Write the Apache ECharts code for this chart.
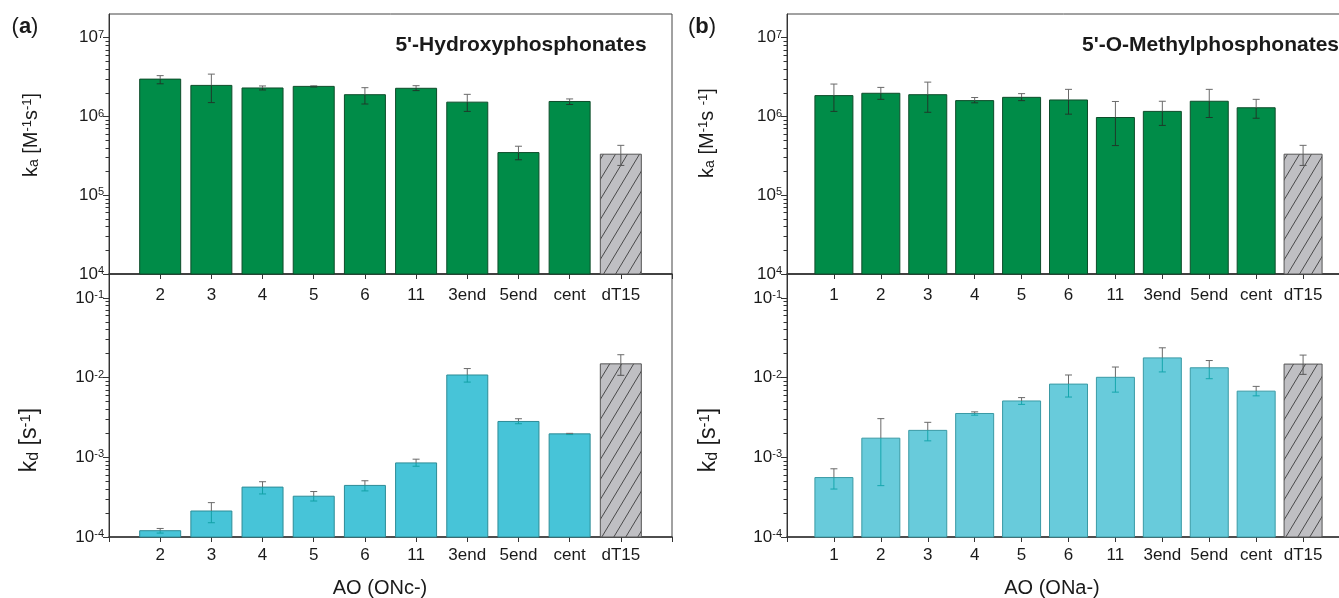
<!DOCTYPE html>
<html><head><meta charset="utf-8">
<script src="https://cdn.jsdelivr.net/npm/echarts@6/dist/echarts.min.js"></script>
<style>html,body{margin:0;padding:0;background:#fff}#c{width:1339px;height:598px}</style>
</head><body><div id="c"></div>
<script>
// ---- data ----
const catsA = ['2','3','4','5','6','11','3end','5end','cent','dT15'];
const kaA    = [2.98e6, 2.48e6, 2.30e6, 2.41e6, 1.89e6, 2.28e6, 1.52e6, 3.48e5, 1.55e6, 3.32e5];
const kaA_hi = [3.30e6, 3.45e6, 2.44e6, 2.45e6, 2.32e6, 2.46e6, 1.91e6, 4.19e5, 1.67e6, 4.30e5];
const kaA_lo = [2.60e6, 1.50e6, 2.17e6, 2.37e6, 1.44e6, 2.13e6, 1.16e6, 2.82e5, 1.42e6, 2.39e5];
const kdA    = [1.20e-4, 2.12e-4, 4.23e-4, 3.25e-4, 4.44e-4, 8.51e-4, 1.08e-2, 2.82e-3, 1.97e-3, 1.49e-2];
const kdA_hi = [1.28e-4, 2.70e-4, 4.94e-4, 3.72e-4, 5.08e-4, 9.48e-4, 1.30e-2, 3.05e-3, 2.00e-3, 1.94e-2];
const kdA_lo = [1.12e-4, 1.51e-4, 3.47e-4, 2.83e-4, 3.79e-4, 7.73e-4, 8.80e-3, 2.64e-3, 1.93e-3, 1.07e-2];

const catsB = ['1','2','3','4','5','6','11','3end','5end','cent','dT15'];
const kaB    = [1.84e6, 1.97e6, 1.89e6, 1.59e6, 1.75e6, 1.62e6, 9.7e5, 1.16e6, 1.56e6, 1.29e6, 3.32e5];
const kaB_hi = [2.58e6, 2.34e6, 2.73e6, 1.74e6, 1.95e6, 2.21e6, 1.55e6, 1.56e6, 2.21e6, 1.65e6, 4.30e5];
const kaB_lo = [1.16e6, 1.65e6, 1.13e6, 1.49e6, 1.59e6, 1.07e6, 4.27e5, 7.7e5, 9.7e5, 9.5e5, 2.39e5];
const kdB    = [5.57e-4, 1.74e-3, 2.18e-3, 3.55e-3, 5.10e-3, 8.30e-3, 1.01e-2, 1.77e-2, 1.33e-2, 6.77e-3, 1.48e-2];
const kdB_hi = [7.18e-4, 3.06e-3, 2.75e-3, 3.72e-3, 5.62e-3, 1.08e-2, 1.36e-2, 2.37e-2, 1.64e-2, 7.77e-3, 1.92e-2];
const kdB_lo = [4.00e-4, 4.41e-4, 1.61e-3, 3.38e-3, 4.62e-3, 5.71e-3, 6.58e-3, 1.18e-2, 9.70e-3, 5.91e-3, 1.10e-2];

const kaRange = [1e4, 2e7];
const kdRange = [1e-4, 0.2];

// ---- styles ----
const FF = '"Liberation Sans", Arial, sans-serif';
const AX = '#333';
const TXT = '#1a1a1a';

function hatchCanvas() {
  const c = document.createElement('canvas'); c.width = 12; c.height = 20;
  const g = c.getContext('2d');
  g.fillStyle = '#bfbfc3'; g.fillRect(0, 0, 12, 20);
  g.strokeStyle = '#4a4a4a'; g.lineWidth = 1;
  g.beginPath();
  [-12, 0, 12].forEach(o => { g.moveTo(o, 20); g.lineTo(o + 12, 0); });
  g.stroke();
  return c;
}
const hatch = { image: hatchCanvas(), repeat: 'repeat' };

const grids = [
  { left: 109, top: 14, width: 563, height: 260 },
  { left: 109, top: 274, width: 563, height: 263 },
  { left: 787, top: 14, width: 563, height: 260 },
  { left: 787, top: 274, width: 563, height: 263 }
].map(g => Object.assign(g, { show: true, borderColor: '#444', borderWidth: 1, backgroundColor: 'transparent', containLabel: false, outerBoundsMode: 'none' }));

function xAxis(gi, cats, margin) {
  return {
    type: 'value', gridIndex: gi, min: 0, max: cats.length + 1, interval: 1,
    axisLine: { show: true, lineStyle: { color: AX, width: 1.5 } },
    axisTick: { show: true, length: 5, lineStyle: { color: AX } },
    axisLabel: { formatter: v => cats[v - 1] || '', fontSize: 17, fontFamily: FF, color: TXT, margin: margin },
    splitLine: { show: false }
  };
}
function yAxis(gi, range) {
  return {
    type: 'log', gridIndex: gi, min: range[0], max: range[1], position: 'left',
    axisLine: { show: true, lineStyle: { color: AX } },
    axisTick: { show: true, length: 6, lineStyle: { color: AX } },
    axisLabel: {
      showMaxLabel: false, margin: 5, color: TXT,
      formatter: v => '{b|10}{s|' + Math.round(Math.log10(v)) + '}',
      rich: { b: { fontSize: 17, fontFamily: FF, color: TXT }, s: { fontSize: 11, fontFamily: FF, color: TXT, verticalAlign: 'top' } }
    },
    splitLine: { show: false }
  };
}
function minorTicks(range) {
  const out = [];
  const e0 = Math.floor(Math.log10(range[0])), e1 = Math.ceil(Math.log10(range[1]));
  for (let e = e0; e <= e1; e++) for (let k = 2; k <= 9; k++) {
    const v = k * Math.pow(10, e);
    if (v > range[0] && v < range[1]) out.push(Math.log10(v));
  }
  return out;
}
function yMinor(gi, range) {
  return {
    type: 'value', gridIndex: gi, position: 'left',
    min: Math.log10(range[0]), max: Math.log10(range[1]),
    axisLine: { show: false }, axisLabel: { show: false }, splitLine: { show: false },
    axisTick: { show: true, length: 3.5, lineStyle: { color: AX }, customValues: minorTicks(range) }
  };
}

function barSeries(gi, cats, vals, lo, hi, range, fill, border, innerErr, barW) {
  return {
    type: 'custom', xAxisIndex: gi, yAxisIndex: gi * 2,
    data: vals.map((v, i) => [i + 1, v, lo[i], hi[i], i]),
    encode: { x: 0, y: 1 },
    renderItem: (params, api) => {
      const x = api.value(0), v = api.value(1), l = api.value(2), h = api.value(3), i = api.value(4);
      const ref = cats[i] === 'dT15';
      const pT = api.coord([x, v]), pB = api.coord([x, range[0]]);
      const pH = api.coord([x, h]), pL = api.coord([x, l]);
      const cx = pT[0], cap = 3.5;
      return {
        type: 'group',
        children: [
          { type: 'rect', shape: { x: cx - barW / 2, y: pT[1], width: barW, height: pB[1] - pT[1] },
            style: { fill: ref ? hatch : fill, stroke: ref ? '#555' : border, lineWidth: 1 } },
          { type: 'line', shape: { x1: cx, y1: pT[1], x2: cx, y2: pH[1] }, style: { stroke: '#6a6a6a', lineWidth: 1 } },
          { type: 'line', shape: { x1: cx, y1: pT[1], x2: cx, y2: pL[1] }, style: { stroke: ref ? '#555' : innerErr, lineWidth: 1 } },
          { type: 'line', shape: { x1: cx - cap, y1: pH[1], x2: cx + cap, y2: pH[1] }, style: { stroke: '#6a6a6a', lineWidth: 1 } },
          { type: 'line', shape: { x1: cx - cap, y1: pL[1], x2: cx + cap, y2: pL[1] }, style: { stroke: ref ? '#555' : innerErr, lineWidth: 1 } }
        ]
      };
    }
  };
}

function txt(x, y, text, o) {
  return Object.assign({ type: 'text', x: x, y: y, silent: true,
    style: Object.assign({ text: text, fill: TXT, fontFamily: FF, fontSize: 20, align: 'center', verticalAlign: 'middle' }, o && o.style || {}) },
    o && o.rotation ? { rotation: o.rotation } : {});
}
const richKa = {
  n: { fontSize: 20, fontFamily: FF, fill: TXT },
  sb: { fontSize: 14, fontFamily: FF, fill: TXT, verticalAlign: 'bottom' },
  sp: { fontSize: 13, fontFamily: FF, fill: TXT, verticalAlign: 'top' }
};
const richKd = {
  n: { fontSize: 23, fontFamily: FF, fill: TXT },
  sb: { fontSize: 16, fontFamily: FF, fill: TXT, verticalAlign: 'bottom' },
  sp: { fontSize: 15, fontFamily: FF, fill: TXT, verticalAlign: 'top' }
};

const option = {
  animation: false,
  grid: grids,
  xAxis: [xAxis(0, catsA, 13), xAxis(1, catsA, 10), xAxis(2, catsB, 13), xAxis(3, catsB, 10)],
  yAxis: [
    yAxis(0, kaRange), yMinor(0, kaRange),
    yAxis(1, kdRange), yMinor(1, kdRange),
    yAxis(2, kaRange), yMinor(2, kaRange),
    yAxis(3, kdRange), yMinor(3, kdRange)
  ],
  series: [
    barSeries(0, catsA, kaA, kaA_lo, kaA_hi, kaRange, '#008c48', '#0d4d2a', '#1e3a2a', 41),
    barSeries(1, catsA, kdA, kdA_lo, kdA_hi, kdRange, '#47c4d8', '#2d8c97', '#12a0a6', 41),
    barSeries(2, catsB, kaB, kaB_lo, kaB_hi, kaRange, '#008c48', '#0d4d2a', '#1e3a2a', 38),
    barSeries(3, catsB, kdB, kdB_lo, kdB_hi, kdRange, '#68cbdb', '#3a9aa5', '#16a6ad', 38)
  ],
  graphic: [
    txt(25, 27, '({b|a})', { style: { fontSize: 22, rich: { b: { fontSize: 22, fontWeight: 'bold', fontFamily: FF, fill: TXT } } } }),
    txt(702, 27, '({b|b})', { style: { fontSize: 22, rich: { b: { fontSize: 22, fontWeight: 'bold', fontFamily: FF, fill: TXT } } } }),
    txt(521, 45, "5'-Hydroxyphosphonates", { style: { fontWeight: 'bold', fontSize: 21 } }),
    txt(1082, 45, "5'-O-Methylphosphonates", { style: { fontWeight: 'bold', fontSize: 21, align: 'left' } }),
    txt(31, 135, '{n|k}{sb|a}{n| [M}{sp|-1}{n|s}{sp|-1}{n|]}', { rotation: Math.PI / 2, style: { rich: richKa } }),
    txt(707, 133, '{n|k}{sb|a}{n| [M}{sp|-1}{n|s }{sp|-1}{n|]}', { rotation: Math.PI / 2, style: { rich: richKa } }),
    txt(30, 440, '{n|k}{sb|d}{n| [s}{sp|-1}{n|]}', { rotation: Math.PI / 2, style: { rich: richKd } }),
    txt(709, 440, '{n|k}{sb|d}{n| [s}{sp|-1}{n|]}', { rotation: Math.PI / 2, style: { rich: richKd } }),
    txt(380, 588, 'AO (ONc-)', {}),
    txt(1052, 588, 'AO (ONa-)', {})
  ]
};
const chart = echarts.init(document.getElementById('c'), null, { renderer: 'canvas' });
chart.setOption(option);
</script></body></html>
